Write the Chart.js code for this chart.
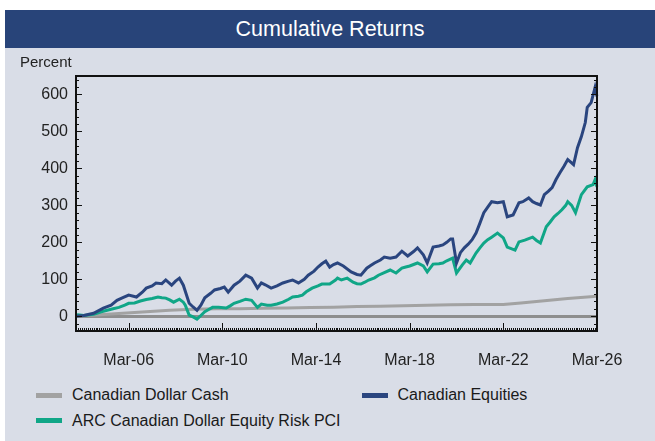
<!DOCTYPE html>
<html>
<head>
<meta charset="utf-8">
<script src="https://cdn.jsdelivr.net/npm/chart.js"></script>
<style>
  body { margin: 0; background: #fff; font-family: "Liberation Sans", Arial, sans-serif; }
  #panel { position: absolute; left: 5px; top: 10px; width: 650px; height: 431px; background: #d9dde7; }
  #title { position: absolute; left: 0; top: 0; width: 650px; height: 38px; background: #284479;
    text-align: center; line-height: 38px; color: #fff; font-size: 21.5px; }
  #wrap { position: absolute; left: 0; top: 38px; width: 650px; height: 327px; }
  #legend { position: absolute; left: 31px; top: 372.5px; display: grid; grid-template-columns: 325.5px 260px;
    grid-auto-rows: 25.5px; align-items: center; font-size: 16px; color: #1a1a1a; }
  #legend .box { display: inline-block; width: 26px; height: 5px; margin-right: 10px; vertical-align: middle;
    position: relative; top: -1px; }
</style>
</head>
<body>
<div id="panel">
  <div id="title">Cumulative Returns</div>
  <div id="wrap"><canvas id="chart" width="650" height="327"></canvas></div>
  <div id="legend"></div>
</div>
<script>
// tick labels
const xTickLabels = ['Mar-06', 'Mar-10', 'Mar-14', 'Mar-18', 'Mar-22', 'Mar-26'];
const yTickValues = [0, 100, 200, 300, 400, 500, 600];

// monthly categories, Dec-03 .. Mar-26
const monthNames = ['Jan','Feb','Mar','Apr','May','Jun','Jul','Aug','Sep','Oct','Nov','Dec'];
const months = [];
for (let y = 2003, m = 11; y < 2026 || (y === 2026 && m <= 2);) {
    months.push(monthNames[m] + '-' + String(y).slice(2));
    m++;
    if (m === 12) { m = 0; y++; }
}

// Canadian Dollar Cash
const cashDates = ['Dec-03','Dec-04','Dec-05','Dec-06','Dec-07','Dec-08','Dec-09','Dec-10','Dec-11','Dec-12',
    'Dec-13','Dec-14','Dec-15','Dec-16','Dec-17','Dec-18','Dec-19','Dec-20','Dec-21','Mar-22',
    'Dec-22','Dec-23','Dec-24','Mar-26'];
const cashValues = [0, 4, 8, 12, 16, 19, 20, 20.5, 21.5, 22.5,
    23.5, 24.5, 26, 27, 28, 29.5, 31, 32, 32, 32,
    36, 42, 48, 54];

// Canadian Equities
const equityDates = [
    'Dec-03','Apr-04','Sep-04',
    'Feb-05','Jun-05','Sep-05','Dec-05',
    'Mar-06','Jul-06','Oct-06','Dec-06',
    'Mar-07','May-07','Aug-07','Oct-07',
    'Jan-08','Mar-08','May-08','Jul-08','Oct-08','Dec-08',
    'Feb-09','Apr-09','Jun-09','Sep-09','Nov-09',
    'Feb-10','Apr-10','Jun-10','Sep-10','Dec-10',
    'Mar-11','Jun-11','Sep-11','Nov-11',
    'Jan-12','Apr-12','Jul-12','Oct-12',
    'Jan-13','Mar-13','Jun-13','Sep-13','Nov-13',
    'Feb-14','Apr-14','Jun-14','Aug-14','Oct-14','Dec-14',
    'Feb-15','May-15','Sep-15','Dec-15',
    'Feb-16','May-16','Jul-16','Sep-16','Dec-16',
    'Feb-17','May-17','Aug-17','Nov-17',
    'Feb-18','May-18','Jul-18','Oct-18','Dec-18',
    'Mar-19','Jun-19','Aug-19','Oct-19','Dec-19',
    'Jan-20','Mar-20','May-20','Jul-20','Sep-20','Nov-20',
    'Jan-21','Mar-21','May-21','Jul-21','Sep-21','Dec-21',
    'Mar-22','May-22','Aug-22','Nov-22',
    'Jan-23','Apr-23','Jun-23','Aug-23','Oct-23','Dec-23',
    'Feb-24','Apr-24','Jun-24','Aug-24','Oct-24','Dec-24',
    'Feb-25','Mar-25','May-25','Jul-25','Sep-25','Oct-25','Dec-25',
    'Feb-26','Mar-26'];
const equityValues = [
    0, 2, 8,
    22, 30, 43, 50,
    57, 52, 65, 76,
    82, 90, 88, 98,
    84, 95, 103, 84, 35, 25,
    16, 30, 50, 62, 71,
    75, 79, 65, 84, 95,
    111, 103, 76, 90,
    85, 76, 82, 90,
    95, 98, 90, 100, 111,
    122, 133, 142, 149, 133, 140,
    144, 136, 120, 113,
    111, 130, 137, 144, 152,
    160, 157, 160, 176,
    163, 175, 185, 166, 144,
    187, 190, 193, 200, 209,
    209, 144, 172, 185, 195, 207,
    225, 252, 280, 295, 310, 307,
    310, 269, 274, 307,
    310, 320, 310, 305, 301, 329,
    338, 348, 370, 388, 405, 424,
    415, 410, 456, 486, 524, 565, 578,
    619, 595];

// ARC Canadian Dollar Equity Risk PCI
const arcDates = [
    'Dec-03','Jan-04','Apr-04','Sep-04',
    'Jan-05','Apr-05','Jul-05','Oct-05',
    'Jan-06','Mar-06','Jun-06','Sep-06','Dec-06',
    'Mar-07','Jun-07','Aug-07','Oct-07','Dec-07',
    'Feb-08','May-08','Jul-08','Aug-08','Oct-08','Dec-08',
    'Feb-09','Apr-09','Jun-09','Aug-09','Oct-09',
    'Jan-10','May-10','Jul-10','Sep-10','Dec-10',
    'Mar-11','Jun-11','Sep-11','Nov-11',
    'Feb-12','Apr-12','Jul-12','Oct-12',
    'Jan-13','Mar-13','Jun-13','Aug-13','Oct-13',
    'Jan-14','Apr-14','Jun-14','Oct-14',
    'Jan-15','Feb-15','Apr-15','Jul-15','Oct-15','Dec-15',
    'Feb-16','Apr-16','Jun-16','Sep-16','Nov-16',
    'Feb-17','May-17','Aug-17','Nov-17',
    'Jan-18','Mar-18','May-18','Jul-18','Oct-18','Dec-18',
    'Mar-19','Jun-19','Aug-19','Oct-19',
    'Jan-20','Mar-20','Jun-20','Aug-20','Oct-20',
    'Jan-21','Mar-21','May-21','Jul-21','Sep-21','Dec-21',
    'Mar-22','May-22','Jul-22','Sep-22','Nov-22',
    'Feb-23','Apr-23','Jun-23','Aug-23','Oct-23',
    'Jan-24','Mar-24','May-24','Jul-24','Sep-24','Nov-24','Dec-24',
    'Feb-25','Apr-25','Jul-25','Oct-25',
    'Jan-26','Feb-26','Mar-26'];
const arcValues = [
    0, 4, 2, 5,
    12, 16, 20, 24,
    30, 35, 36, 41, 45,
    48, 52, 50, 49, 44,
    38, 46, 38, 30, 3, -2,
    -8, 2, 12, 18, 24,
    24, 22, 28, 35, 40,
    46, 43, 24, 33,
    30, 30, 33, 38,
    46, 52, 54, 57, 66,
    76, 82, 87, 87,
    98, 103, 98, 103, 92, 88,
    87, 92, 98, 104, 111,
    118, 125, 117, 130,
    133, 136, 140, 144, 136, 120,
    141, 142, 144, 150,
    157, 117, 139, 152, 144,
    171, 185, 198, 207, 214, 225,
    212, 187, 183, 179, 201,
    206, 210, 214, 205, 198,
    242, 255, 269, 278, 288, 300, 310,
    300, 280, 329, 350,
    356, 369, 350];

const tickFont = { family: '"Liberation Sans", Arial, sans-serif', size: 16 };

function pairs(dates, values) {
    return dates.map((d, i) => ({ x: d, y: values[i] }));
}

// inside ticks and the box round the plot
const frameTicks = {
    id: 'frameTicks',
    afterDatasetsDraw(chart) {
        const { ctx, chartArea: { left, right, top, bottom }, scales: { x, y } } = chart;
        ctx.save();
        ctx.strokeStyle = '#111';
        ctx.lineWidth = 1;
        ctx.beginPath();
        for (let v = -40; v <= 640; v += 20) {
            const py = Math.round(y.getPixelForValue(v)) + 0.5;
            const len = v % 100 === 0 ? 6 : 3;
            ctx.moveTo(left, py); ctx.lineTo(left + len, py);
            ctx.moveTo(right, py); ctx.lineTo(right - len, py);
        }
        months.forEach((m, i) => {
            const px = Math.round(x.getPixelForValue(i)) + 0.5;
            const len = xTickLabels.includes(m) ? 8 : 3;
            ctx.moveTo(px, bottom); ctx.lineTo(px, bottom - len);
        });
        ctx.stroke();
        ctx.lineWidth = 2;
        ctx.strokeRect(left, top, right - left, bottom - top);
        ctx.restore();
    }
};

const chart = new Chart(document.getElementById('chart'), {
    type: 'line',
    data: {
        labels: months,
        datasets: [{
            label: 'Canadian Dollar Cash',
            data: pairs(cashDates, cashValues),
            borderColor: '#a2a2a2',
            order: 2
        }, {
            label: 'Canadian Equities',
            data: pairs(equityDates, equityValues),
            borderColor: '#2a457f',
            order: 0
        }, {
            label: 'ARC Canadian Dollar Equity Risk PCI',
            data: pairs(arcDates, arcValues),
            borderColor: '#10a687',
            order: 1
        }]
    },
    options: {
        responsive: false,
        animation: false,
        elements: {
            line: { borderWidth: 3, tension: 0 },
            point: { radius: 0 }
        },
        layout: { padding: { left: 15, right: 58, top: 4, bottom: 0 } },
        plugins: {
            legend: { display: false },
            tooltip: { enabled: false },
            title: {
                display: true,
                text: 'Percent',
                align: 'start',
                color: '#222',
                font: { family: tickFont.family, size: 15, weight: 'normal' },
                padding: { top: 2, bottom: 4 }
            }
        },
        scales: {
            x: {
                type: 'category',
                offset: false,
                grid: { display: false },
                border: { display: false },
                afterBuildTicks: scale => {
                    scale.ticks = xTickLabels.map(l => ({ value: months.indexOf(l) }));
                },
                afterFit: scale => { scale.height = 44; },
                ticks: {
                    autoSkip: false,
                    maxRotation: 0,
                    padding: 12,
                    color: '#222',
                    font: tickFont,
                    callback: function(value) { return this.getLabelForValue(value); }
                }
            },
            y: {
                min: -40,
                max: 650,
                border: { display: false },
                afterBuildTicks: scale => {
                    scale.ticks = yTickValues.map(v => ({ value: v }));
                },
                afterFit: scale => { scale.width = 56; },
                grid: {
                    drawTicks: false,
                    lineWidth: 3,
                    color: ctx => ctx.tick && ctx.tick.value === 0 ? '#8e8e8e' : 'rgba(0,0,0,0)'
                },
                ticks: { padding: 8, color: '#222', font: tickFont }
            }
        }
    },
    plugins: [frameTicks]
});

// legend in two columns, same order as the reference
const legendOrder = [0, 1, 2];
const legendEl = document.getElementById('legend');
legendOrder.forEach(i => {
    const ds = chart.data.datasets[i];
    const item = document.createElement('div');
    const box = document.createElement('span');
    box.className = 'box';
    box.style.background = ds.borderColor;
    item.appendChild(box);
    item.appendChild(document.createTextNode(ds.label));
    legendEl.appendChild(item);
});
</script>
</body>
</html>
